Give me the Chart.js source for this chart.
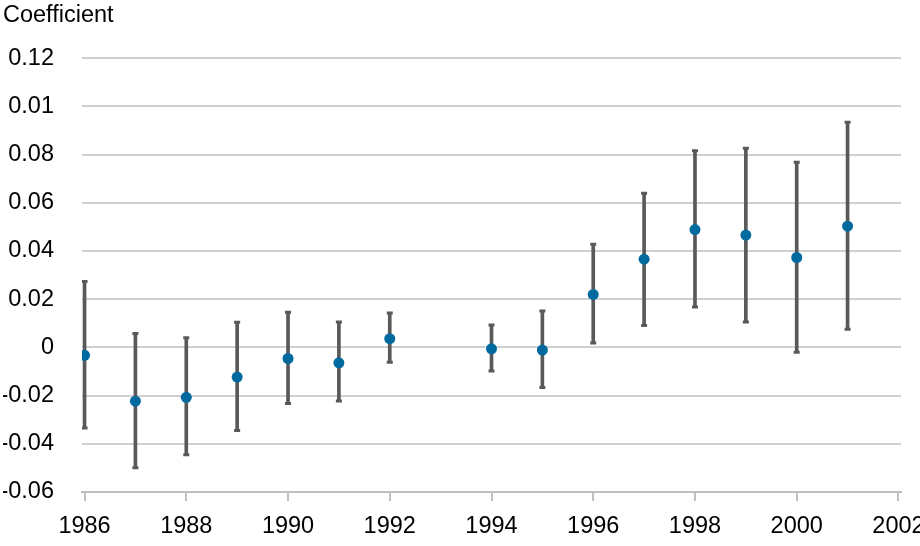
<!DOCTYPE html>
<html>
<head>
<meta charset="utf-8">
<script src="https://cdn.jsdelivr.net/npm/chart.js@4.4.0/dist/chart.umd.min.js"></script>
<style>
    body { margin: 0; background: #ffffff; }
    #wrap { width: 920px; height: 546px; }
</style>
</head>
<body>
<div id="wrap"><canvas id="coefChart" width="920" height="546"></canvas></div>
<script>
// 1993 has no estimate
var years = [1986, 1987, 1988, 1989, 1990, 1991, 1992, 1994, 1995, 1996, 1997, 1998, 1999, 2000, 2001]
var coef = [-0.0033, -0.0223, -0.0207, -0.0123, -0.0046, -0.0064, 0.0036, -0.0006, -0.0011, 0.0220, 0.0366, 0.0489, 0.0466, 0.0373, 0.0503]
var upper = [0.0273, 0.0058, 0.0040, 0.0104, 0.0146, 0.0105, 0.0143, 0.0093, 0.0151, 0.0428, 0.0640, 0.0816, 0.0826, 0.0768, 0.0934]
var lower = [-0.0334, -0.0499, -0.0445, -0.0345, -0.0233, -0.0222, -0.0062, -0.0098, -0.0166, 0.0018, 0.0091, 0.0168, 0.0105, -0.0020, 0.0075]
var xTickYears = [1986, 1988, 1990, 1992, 1994, 1996, 1998, 2000, 2002]
// the 0.10 line is labelled "0.01" in the original
var yTickLabels = ['-0.06', '-0.04', '-0.02', '0', '0.02', '0.04', '0.06', '0.08', '0.01', '0.12']

var dotColor = '#006a9f'
var barColor = '#595959'
var font = { family: "'Liberation Sans', Arial, sans-serif", size: 23.5 }

function pts(vals){
    return years.map((y, i)=>{ return {x: y, y: vals[i]} })
}

new Chart(document.getElementById('coefChart'), {
    type: 'bar',
    data: {
        datasets: [
            {type: 'scatter', data: pts(coef), order: 0, pointRadius: 5.5, pointHoverRadius: 5.5,
                backgroundColor: dotColor, borderWidth: 0},
            // caps of the error bars
            {type: 'scatter', data: pts(upper), order: 1, pointStyle: 'line', pointRadius: 3,
                borderColor: barColor, borderWidth: 3},
            {type: 'scatter', data: pts(lower), order: 1, pointStyle: 'line', pointRadius: 3,
                borderColor: barColor, borderWidth: 3},
            // error bar body as floating bars
            {type: 'bar', order: 2, barThickness: 3, backgroundColor: barColor,
                data: years.map((y, i)=>{ return {x: y, y: [lower[i], upper[i]]} })}
        ]
    },
    options: {
        responsive: false,
        animation: false,
        layout: {padding: {left: 3, right: 19, top: 0, bottom: 0}},
        plugins: {
            legend: {display: false},
            tooltip: {enabled: false},
            title: {display: true, text: 'Coefficient', align: 'start', color: '#000000',
                font: {family: font.family, size: 23.5, weight: 'normal'}, padding: {top: 1, bottom: 29}}
        },
        scales: {
            x: {
                type: 'linear', min: 1985.95, max: 2002.05, offset: false,
                afterBuildTicks: function(scale){ scale.ticks = xTickYears.map((v)=>{ return {value: v} }) },
                afterFit: function(scale){ scale.height = 54; scale.paddingLeft = 0; scale.paddingRight = 0 },
                grid: {offset: false, drawOnChartArea: false, drawTicks: true, tickLength: 9, color: '#bfbfbf', lineWidth: 2},
                border: {display: true, color: '#bfbfbf', width: 2},
                ticks: {color: '#000000', font: font, padding: 11, maxRotation: 0,
                    callback: function(value){ return String(value) }}
            },
            y: {
                min: -0.06, max: 0.12,
                afterFit: function(scale){ scale.width = 79 },
                grid: {color: '#d0d0d0', lineWidth: 2, drawTicks: false},
                border: {display: false},
                ticks: {stepSize: 0.02, color: '#000000', font: font, padding: 28,
                    callback: function(value, index){ return yTickLabels[index] }}
            }
        }
    }
})
</script>
</body>
</html>
